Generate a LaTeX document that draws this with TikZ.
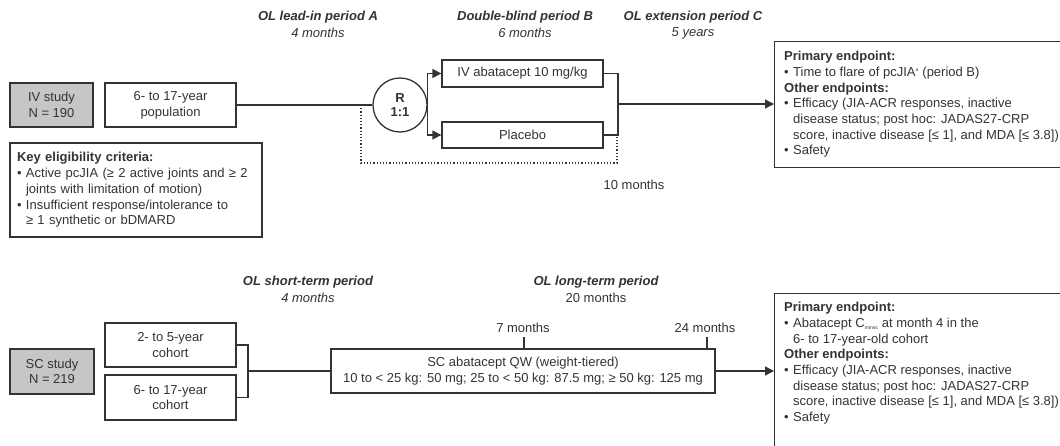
\documentclass[tikz,border=0pt]{standalone}
\usepackage{fontspec}
\setmainfont{Liberation Sans}
\usetikzlibrary{arrows.meta}
\definecolor{ink}{HTML}{333333}
\definecolor{boxgray}{HTML}{C6C6C6}
\newcommand{\bul}{\makebox[9pt][l]{\textbullet}}
\newcommand{\ind}{\hspace*{9pt}}
\tikzset{
  every node/.style={text=ink, font=\fontsize{13}{15.7}\selectfont, inner sep=0pt},
  box/.style={draw=ink, line width=1.3pt, align=center},
  gbox/.style={box, fill=boxgray},
  con/.style={draw=ink, line width=1.3pt},
  arr/.style={con, -{Triangle[length=9pt,width=9pt]}},
  dots/.style={draw=ink, line width=1.2pt, dotted},
  head/.style={font=\fontsize{13}{15.7}\selectfont\bfseries\itshape},
  sub/.style={font=\fontsize{13}{15.7}\selectfont\itshape},
  plain/.style={font=\fontsize{13}{15.7}\selectfont},
  txt/.style={align=left, anchor=north west}
}
\begin{document}
\begin{tikzpicture}[x=1pt,y=-1pt]
\clip (0,0) rectangle (1060,446);
\path[use as bounding box] (0,0) rectangle (1060,446);

% ---------- IV study ----------
\node[head] (hA) at (318,17) {OL lead-in period A};
\node[sub] (hA2) at (318,33) {4 months};
\node[head] (hB) at (525,17) {Double-blind period B};
\node[sub] (hB2) at (525,33) {6 months};
\node[head] (hC) at (693,17) {OL extension period C};
\node[sub] (hC2) at (693,33) {5 years};

\node[gbox, minimum width=83pt, minimum height=44pt] (iv) at (51.5,105) {IV study\\N = 190};
\node[box, minimum width=131pt, minimum height=44pt] (pop) at (170.5,105) {6- to 17-year\\population};
\node[box, circle, minimum size=54pt] (R) at (400,105) {\bfseries R\\[-1pt]\bfseries 1:1};

\node[box, minimum width=252pt, minimum height=94pt, text width=238pt, align=left] (elig) at (136,190)
{\textbf{Key eligibility criteria:}\\
\bul Active pcJIA (≥ 2 active joints and ≥ 2\\
\ind joints with limitation of motion)\\
\bul Insufficient response/intolerance to\\
\ind ≥ 1 synthetic or bDMARD};

\node[box, minimum width=161pt, minimum height=27pt] (ivab) at (522.5,73.5) {IV abatacept 10 mg/kg};
\node[box, minimum width=161pt, minimum height=26pt] (plac) at (522.5,135) {Placebo};

\node[box, anchor=north west, minimum width=300pt, minimum height=126pt] (rb1) at (774,41) {};
\node[txt] (rb1t) at (784,51)
{\textbf{Primary endpoint:}\\
\bul Time to flare of pcJIA\textsuperscript{\tiny a} (period B)\\
\textbf{Other endpoints:}\\
\bul Efficacy (JIA-ACR responses, inactive\\
\ind disease status; post hoc: JADAS27-CRP\\
\ind score, inactive disease [≤ 1], and MDA [≤ 3.8])\\
\bul Safety};

\node[plain] (ten) at (634,185) {10 months};

\coordinate (d1) at (361,105);
\coordinate (d2) at (361,163);
\coordinate (d3) at (617,163);
\coordinate (d4) at (617,137);
\coordinate (j1) at (618,73.5);
\coordinate (j2) at (618,135);
\coordinate (j3) at (618,104);

\draw[con] (pop.east) -- (R.west);
\draw[arr] (R.east) |- (ivab.west);
\draw[arr] (R.east) |- (plac.west);
\draw[con] (ivab.east) -- (j1) -- (j2) -- (plac.east);
\draw[arr] (j3) -- (j3 -| rb1.west);
\draw[dots] (d1) -- (d2) -- (d3) -- (d4);

% ---------- SC study ----------
\node[head] (hS) at (308,282) {OL short-term period};
\node[sub] (hS2) at (308,298) {4 months};
\node[head] (hL) at (596,282) {OL long-term period};
\node[plain] (hL2) at (596,298) {20 months};

\node[gbox, minimum width=84pt, minimum height=45pt] (sc) at (52,371.5) {SC study\\N = 219};
\node[box, minimum width=131pt, minimum height=44pt] (c1) at (170.5,345) {2- to 5-year\\cohort};
\node[box, minimum width=131pt, minimum height=45pt] (c2) at (170.5,397.5) {6- to 17-year\\cohort};
\node[box, minimum width=384pt, minimum height=44pt] (scab) at (523,371)
{SC abatacept QW (weight-tiered)\\10 to < 25 kg: 50 mg; 25 to < 50 kg: 87.5 mg; ≥ 50 kg: 125 mg};

\node[plain] (m7) at (523,328) {7 months};
\node[plain] (m24) at (705,328) {24 months};
\coordinate (t7) at (524,337);
\coordinate (t24) at (707,337);

\node[box, anchor=north west, minimum width=300pt, minimum height=170pt] (rb2) at (774,293) {};
\node[txt] (rb2t) at (784,302)
{\textbf{Primary endpoint:}\\
\bul Abatacept C\textsubscript{\tiny minss} at month 4 in the\\
\ind 6- to 17-year-old cohort\\
\textbf{Other endpoints:}\\
\bul Efficacy (JIA-ACR responses, inactive\\
\ind disease status; post hoc: JADAS27-CRP\\
\ind score, inactive disease [≤ 1], and MDA [≤ 3.8])\\
\bul Safety};

\coordinate (b1) at (248,345);
\coordinate (b2) at (248,397.5);
\coordinate (b3) at (248,371);
\draw[con] (c1.east) -- (b1) -- (b2) -- (c2.east);
\draw[con] (b3) -- (scab.west);
\draw[con] (t7) -- (t7 |- scab.north);
\draw[con] (t24) -- (t24 |- scab.north);
\draw[arr] (scab.east) -- (scab.east -| rb2.west);
\end{tikzpicture}
\end{document}
